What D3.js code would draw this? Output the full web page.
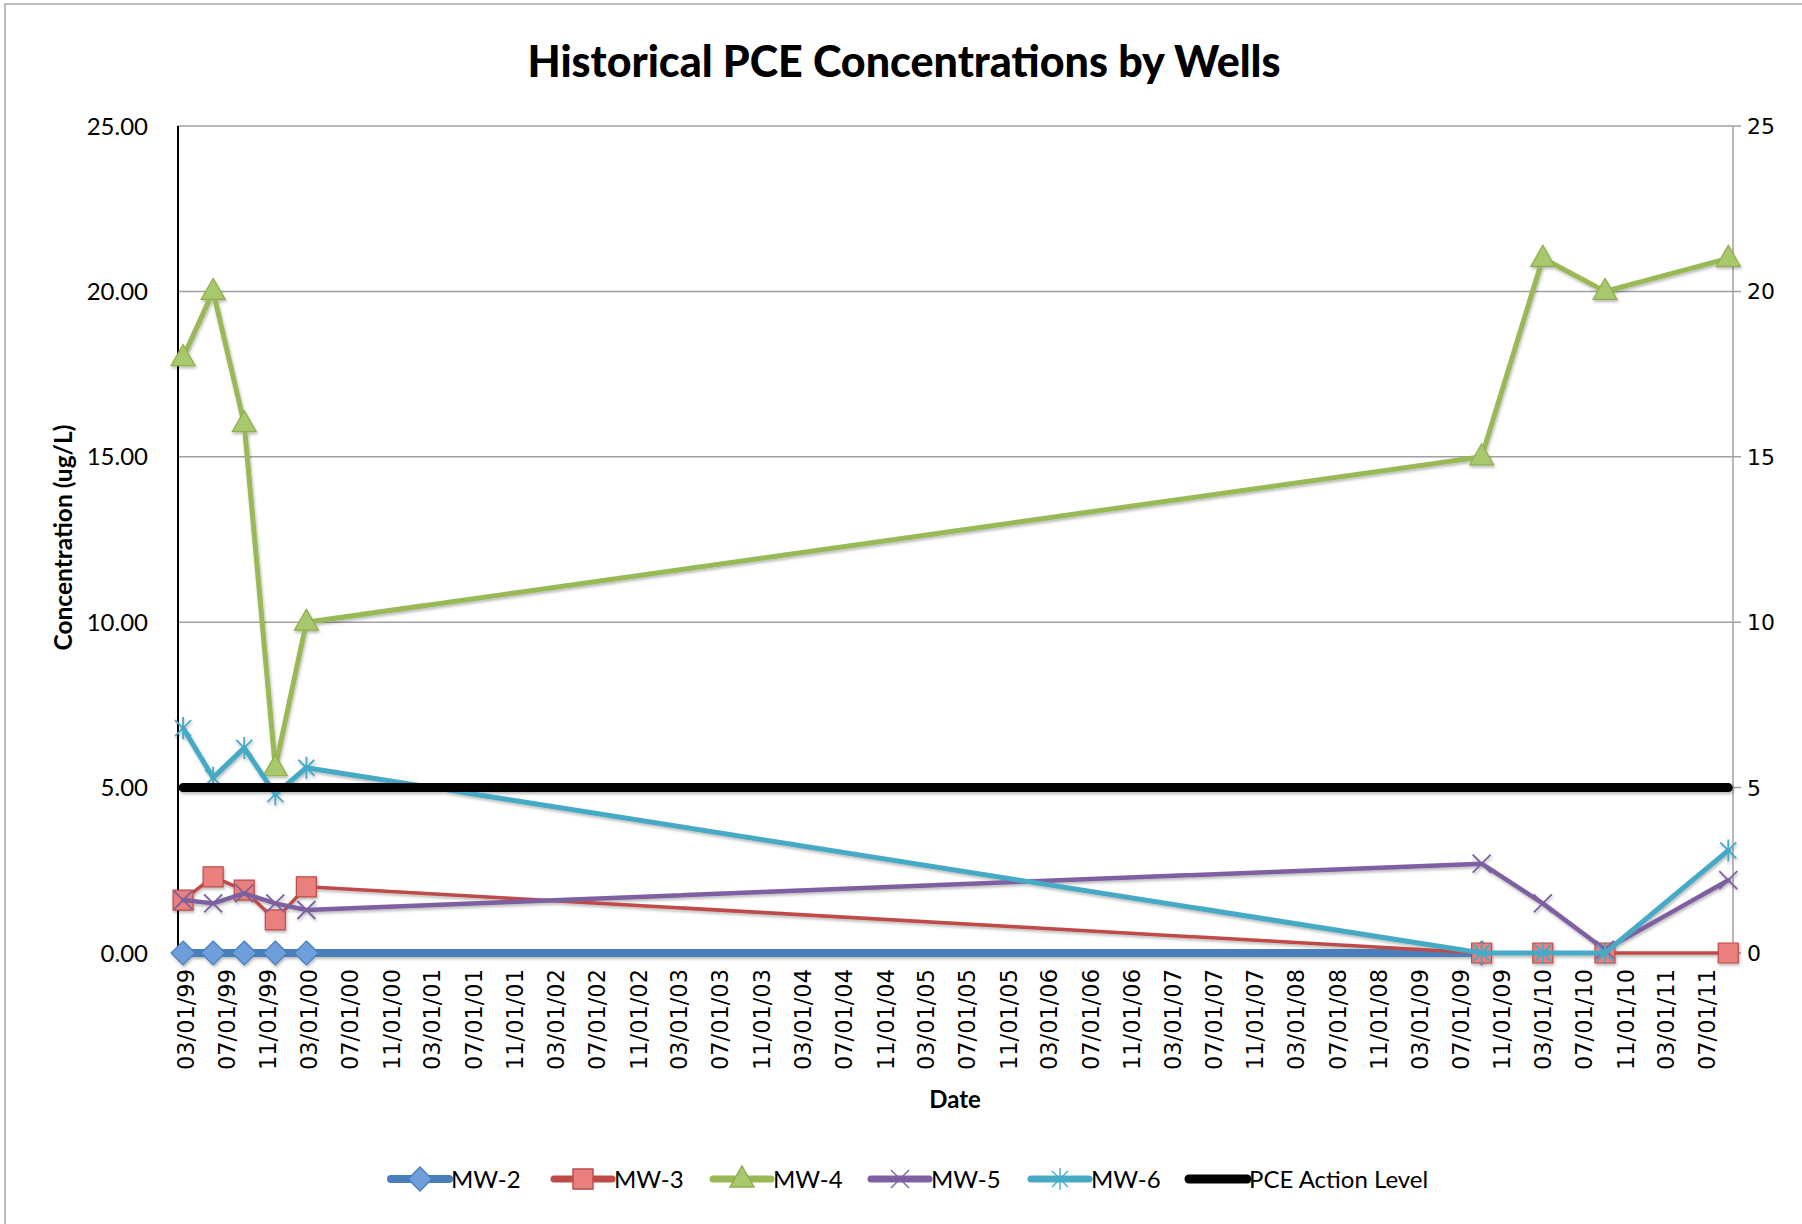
<!DOCTYPE html>
<html>
<head>
<meta charset="utf-8">
<script src="https://cdn.jsdelivr.net/npm/d3@7"></script>
<style>
  body { margin: 0; background: #fff; }
  svg { display: block; }
</style>
</head>
<body>
<div id="chart"></div>
<script>
// sampling dates and measured PCE (ug/L)
const sampleDates = ["1999-02-22", "1999-05-22", "1999-08-22", "1999-11-22", "2000-02-22",
                     "2009-09-01", "2010-03-01", "2010-09-01", "2011-09-01"];
const mw2 = [0, 0, 0, 0, 0, 0, null, null, null];
const mw3 = [1.6, 2.3, 1.9, 1.0, 2.0, 0, 0, 0, 0];
const mw4 = [18, 20, 16, 5.6, 10, 15, 21, 20, 21];
const mw5 = [1.6, 1.5, 1.8, 1.5, 1.3, 2.7, 1.5, 0.1, 2.2];
const mw6 = [6.8, 5.3, 6.2, 4.8, 5.6, 0, 0, 0, 3.1];
const actionLevel = [5, 5, 5, 5, 5, 5, 5, 5, 5];
const yTicks = [0, 5, 10, 15, 20, 25];

const W = 1802, H = 1224;
const margin = { left: 178, right: 1733, top: 126, bottom: 953 };
const parse = d3.timeParse("%Y-%m-%d");
const dates = sampleDates.map(parse);

const series = [
  { name: "MW-2", values: mw2, color: "#4a7ebb", width: 8, marker: "diamond", fill: "#6e9fdb", mstroke: "#4a7ebb" },
  { name: "MW-3", values: mw3, color: "#be4b48", width: 3.5, marker: "square", fill: "#e9807d", mstroke: "#bc4a47" },
  { name: "MW-4", values: mw4, color: "#98b954", width: 5, marker: "triangle", fill: "#a8c86d", mstroke: "#8dae4a" },
  { name: "MW-5", values: mw5, color: "#7d60a0", width: 4.5, marker: "x", fill: "none", mstroke: "#7d60a0" },
  { name: "MW-6", values: mw6, color: "#46aac5", width: 5, marker: "star", fill: "none", mstroke: "#46aac5" },
  { name: "PCE Action Level", values: actionLevel, color: "#000000", width: 9, marker: null }
];

function markerPath(type) {
  switch (type) {
    case "diamond": return "M0,-12L12,0L0,12L-12,0Z";
    case "square": return "M-10,-10H10V10H-10Z";
    case "triangle": return "M0,-13L12,8H-12Z";
    case "x": return "M-9,-9L9,9M-9,9L9,-9";
    case "star": return "M-8,-8L8,8M-8,8L8,-8M0,-11V11";
  }
  return "";
}

const svg = d3.select("#chart").append("svg")
  .attr("width", W).attr("height", H);

const defs = svg.append("defs");
defs.append("filter").attr("id", "shadow")
  .attr("x", "-20%").attr("y", "-20%").attr("width", "140%").attr("height", "140%")
  .append("feDropShadow")
  .attr("dx", 1).attr("dy", 2).attr("stdDeviation", 1.5)
  .attr("flood-color", "#000").attr("flood-opacity", 0.28);

// chart border
svg.append("rect")
  .attr("x", 5).attr("y", 4).attr("width", W).attr("height", H)
  .attr("fill", "#fff").attr("stroke", "#a6a6a6").attr("stroke-width", 1.5);

const x = d3.scaleTime()
  .domain([new Date(1999, 1, 7), new Date(2011, 8, 15)])
  .range([margin.left, margin.right]);
const y = d3.scaleLinear()
  .domain([0, 25])
  .range([margin.bottom, margin.top]);

// gridlines
svg.append("g").selectAll("line").data(yTicks).join("line")
  .attr("x1", margin.left).attr("x2", margin.right + 8)
  .attr("y1", d => y(d)).attr("y2", d => y(d))
  .attr("stroke", "#a0a0a0").attr("stroke-width", 1.5);

// right axis line + labels
svg.append("line")
  .attr("x1", margin.right).attr("x2", margin.right)
  .attr("y1", margin.top).attr("y2", margin.bottom + 6)
  .attr("stroke", "#a0a0a0").attr("stroke-width", 1.5);
svg.append("g").selectAll("text").data(yTicks).join("text")
  .attr("x", margin.right + 14).attr("y", d => y(d))
  .attr("dy", "0.36em")
  .attr("font-family", "DejaVu Sans").attr("font-size", 22)
  .text(d => d);

// left axis
svg.append("line")
  .attr("x1", margin.left).attr("x2", margin.left)
  .attr("y1", margin.top).attr("y2", margin.bottom)
  .attr("stroke", "#000").attr("stroke-width", 2);
svg.append("g").selectAll("text").data(yTicks).join("text")
  .attr("x", margin.left - 30).attr("y", d => y(d))
  .attr("dy", "0.36em").attr("text-anchor", "end")
  .attr("font-family", "Lato").attr("font-size", 24)
  .text(d => d3.format(".2f")(d));

// x tick labels
const xTicks = d3.timeMonth.range(new Date(1999, 2, 1), new Date(2011, 7, 2), 4);
const fmt = d3.timeFormat("%m/%d/%y");
svg.append("g").selectAll("text").data(xTicks).join("text")
  .attr("transform", d => `translate(${x(d)},${margin.bottom + 16}) rotate(-90)`)
  .attr("text-anchor", "end").attr("dy", "0.36em")
  .attr("font-family", "DejaVu Sans").attr("font-size", 22.5)
  .text(d => fmt(d));

// series
const line = d3.line()
  .defined(d => d.v != null)
  .x(d => x(d.date)).y(d => y(d.v));

const plot = svg.append("g").attr("filter", "url(#shadow)");
series.forEach(s => {
  const pts = dates.map((date, i) => ({ date, v: s.values[i] }));
  plot.append("path")
    .datum(pts)
    .attr("d", line)
    .attr("fill", "none")
    .attr("stroke", s.color)
    .attr("stroke-width", s.width)
    .attr("stroke-linecap", "round")
    .attr("stroke-linejoin", "round");
  if (s.marker) {
    plot.append("g").selectAll("path").data(pts.filter(d => d.v != null)).join("path")
      .attr("transform", d => `translate(${x(d.date)},${y(d.v)})`)
      .attr("d", markerPath(s.marker))
      .attr("fill", s.fill)
      .attr("stroke", s.mstroke)
      .attr("stroke-width", s.fill === "none" ? 1.8 : 1.2);
  }
});

// title and axis titles
svg.append("text")
  .attr("x", 904).attr("y", 77).attr("text-anchor", "middle")
  .attr("font-family", "Lato").attr("font-weight", "900").attr("font-size", 43)
  .text("Historical PCE Concentrations by Wells");
svg.append("text")
  .attr("transform", `translate(72,${(margin.top + margin.bottom) / 2 - 2}) rotate(-90)`)
  .attr("text-anchor", "middle")
  .attr("font-family", "Lato").attr("font-weight", "bold").attr("font-size", 24.5)
  .text("Concentration (ug/L)");
svg.append("text")
  .attr("x", 955).attr("y", 1108).attr("text-anchor", "middle")
  .attr("font-family", "Lato").attr("font-weight", "bold").attr("font-size", 24)
  .text("Date");

// legend
const legendX = [391, 554, 713, 871, 1031, 1189];
const legend = svg.append("g");
series.forEach((s, i) => {
  const g = legend.append("g").attr("transform", `translate(${legendX[i]},1179)`);
  g.append("line").attr("x1", 0).attr("x2", 58)
    .attr("stroke", s.color).attr("stroke-width", Math.max(s.width, 7))
    .attr("stroke-linecap", "round");
  if (s.marker) {
    g.append("path").attr("transform", "translate(29,0)")
      .attr("d", markerPath(s.marker))
      .attr("fill", s.fill).attr("stroke", s.mstroke).attr("stroke-width", 1.4);
  }
  g.append("text").attr("x", 60).attr("dy", "0.36em")
    .attr("font-family", "Lato").attr("font-size", 24)
    .text(s.name);
});
</script>
</body>
</html>
